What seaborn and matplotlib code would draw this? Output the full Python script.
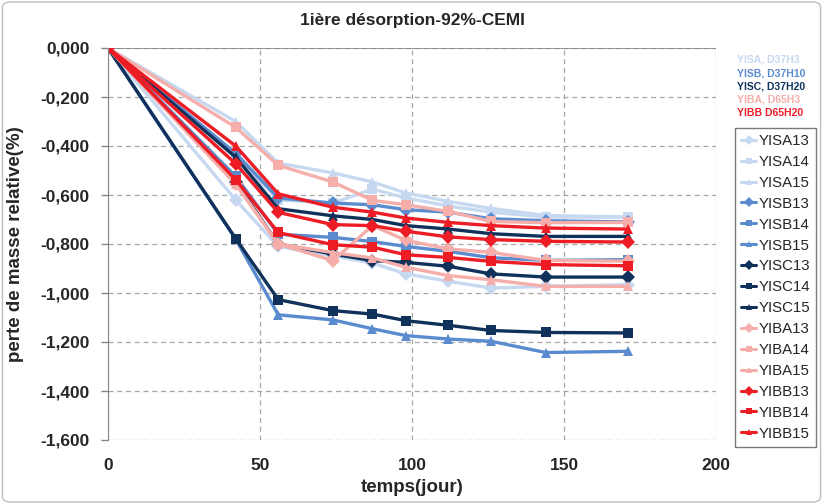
import matplotlib
matplotlib.use("Agg")
from matplotlib import pyplot as plt
import matplotlib.ticker as mticker
import matplotlib.patches as mpatches
import pandas as pd
import seaborn as sns

# measurement days
days = [0, 42, 56, 74, 87, 98, 112, 126, 144, 171]

YISA13 = [0, -0.620, -0.810, -0.848, -0.878, -0.922, -0.952, -0.980, -0.973, -0.966]
YISA14 = [0, -0.440, -0.620, -0.633, -0.576, -0.612, -0.645, -0.670, -0.690, -0.690]
YISA15 = [0, -0.300, -0.470, -0.510, -0.547, -0.592, -0.626, -0.655, -0.684, -0.690]
YISB13 = [0, -0.430, -0.612, -0.633, -0.640, -0.660, -0.670, -0.697, -0.705, -0.710]
YISB14 = [0, -0.524, -0.760, -0.773, -0.790, -0.810, -0.830, -0.856, -0.867, -0.864]
YISB15 = [0, -0.780, -1.089, -1.110, -1.146, -1.174, -1.188, -1.197, -1.243, -1.238]
YISC13 = [0, -0.545, -0.800, -0.841, -0.868, -0.875, -0.891, -0.922, -0.935, -0.935]
YISC14 = [0, -0.778, -1.027, -1.072, -1.086, -1.113, -1.132, -1.153, -1.161, -1.163]
YISC15 = [0, -0.446, -0.656, -0.685, -0.700, -0.725, -0.739, -0.758, -0.769, -0.769]
YIBA13 = [0, -0.555, -0.800, -0.868, -0.725, -0.785, -0.820, -0.834, -0.867, -0.870]
YIBA14 = [0, -0.324, -0.479, -0.547, -0.622, -0.640, -0.667, -0.708, -0.713, -0.712]
YIBA15 = [0, -0.555, -0.800, -0.835, -0.857, -0.895, -0.929, -0.946, -0.973, -0.973]
YIBB13 = [0, -0.472, -0.671, -0.721, -0.725, -0.748, -0.771, -0.782, -0.789, -0.792]
YIBB14 = [0, -0.537, -0.753, -0.803, -0.813, -0.844, -0.855, -0.871, -0.884, -0.889]
YIBB15 = [0, -0.400, -0.595, -0.650, -0.670, -0.694, -0.712, -0.725, -0.735, -0.739]

series = {
    "YISA13": YISA13, "YISA14": YISA14, "YISA15": YISA15,
    "YISB13": YISB13, "YISB14": YISB14, "YISB15": YISB15,
    "YISC13": YISC13, "YISC14": YISC14, "YISC15": YISC15,
    "YIBA13": YIBA13, "YIBA14": YIBA14, "YIBA15": YIBA15,
    "YIBB13": YIBB13, "YIBB14": YIBB14, "YIBB15": YIBB15,
}

group_colors = {"YISA": "#c6d9f0", "YISB": "#5b8bcf", "YISC": "#10315a",
                "YIBA": "#f5aeaa", "YIBB": "#ee1c25"}
group_notes = ["YISA, D37H3", "YISB, D37H10", "YISC, D37H20", "YIBA, D65H3", "YIBB D65H20"]
marker_by_end = {"13": "D", "14": "s", "15": "^"}

rows = []
for name, vals in series.items():
    for d, v in zip(days, vals):
        rows.append({"serie": name, "jour": d, "perte": v})
df = pd.DataFrame(rows)

palette = {n: group_colors[n[:4]] for n in series}
markers = {n: marker_by_end[n[4:]] for n in series}

sns.set_style("white")
plt.rcParams["font.family"] = ["Liberation Sans", "DejaVu Sans"]
narrow = ["Liberation Sans Narrow", "Liberation Sans"]

fig = plt.figure(figsize=(8.23, 5.04), dpi=100)
ax = fig.add_axes([108 / 823, 1 - 440 / 504, (716 - 108) / 823, (440 - 48) / 504])

sns.lineplot(data=df, x="jour", y="perte", hue="serie", style="serie",
             palette=palette, markers=markers, dashes=False, sort=False,
             linewidth=2.4, markersize=7, markeredgewidth=0, ax=ax, legend="full")

ax.set_xlim(0, 200)
ax.set_ylim(-1.6, 0)
ax.xaxis.set_major_locator(mticker.MultipleLocator(50))
ax.yaxis.set_major_locator(mticker.MultipleLocator(0.2))
ax.yaxis.set_major_formatter(mticker.FuncFormatter(lambda v, p: f"{v:.3f}".replace(".", ",").replace("-0,000", "0,000")))
ax.grid(True, linestyle=(0, (4, 3)), color="#a6a6a6", linewidth=0.9)
for s in ["top", "right", "bottom"]:
    ax.spines[s].set_visible(False)
ax.spines["left"].set_color("#868686")
ax.axhline(0, color="#868686", linewidth=1.2, zorder=1)

ax.tick_params(axis="x", length=0, pad=13, colors="#262626")
ax.tick_params(axis="y", length=5, width=1, color="#868686", pad=8, left=True, colors="#262626")
for lab in ax.get_xticklabels() + ax.get_yticklabels():
    lab.set_fontfamily(narrow)
    lab.set_fontweight("bold")
    lab.set_fontsize(12.5)

ax.set_xlabel("temps(jour)", fontsize=13.5, fontweight="bold", family=narrow, labelpad=4)
ax.set_ylabel("perte de masse relative(%)", fontsize=13.5, fontweight="bold", family=narrow, labelpad=12)
fig.text(412 / 823, 1 - 20 / 504, "1ière désorption-92%-CEMI", ha="center", va="center",
         fontsize=12.5, fontweight="bold", color="#262626")

handles, labels = ax.get_legend_handles_labels()
leg = ax.legend(handles, labels, loc="upper left", bbox_to_anchor=(735 / 823, 1 - 128 / 504),
                bbox_transform=fig.transFigure, frameon=True, fancybox=False,
                handlelength=1.0, handletextpad=0.15, labelspacing=0.46,
                borderpad=0.4, borderaxespad=0, prop={"family": narrow, "size": 10.8})
leg.get_frame().set_edgecolor("#595959")
leg.get_frame().set_linewidth(1.0)
for t in leg.get_texts():
    t.set_color("#262626")
for h in leg.legend_handles:
    h.set_markersize(5)
    h.set_linewidth(2.2)

for i, (note, g) in enumerate(zip(group_notes, group_colors)):
    fig.text(737 / 823, 1 - (60 + 13.3 * i) / 504, note, ha="left", va="center",
             fontsize=7.5, fontweight="bold", color=group_colors[g])

fig.patches.append(mpatches.FancyBboxPatch((0.003, 0.004), 0.994, 0.992,
                   boxstyle="round,pad=0,rounding_size=0.01", transform=fig.transFigure,
                   facecolor="none", edgecolor="#bfbfbf", linewidth=1.0))

fig.savefig("out.png", dpi=100)
